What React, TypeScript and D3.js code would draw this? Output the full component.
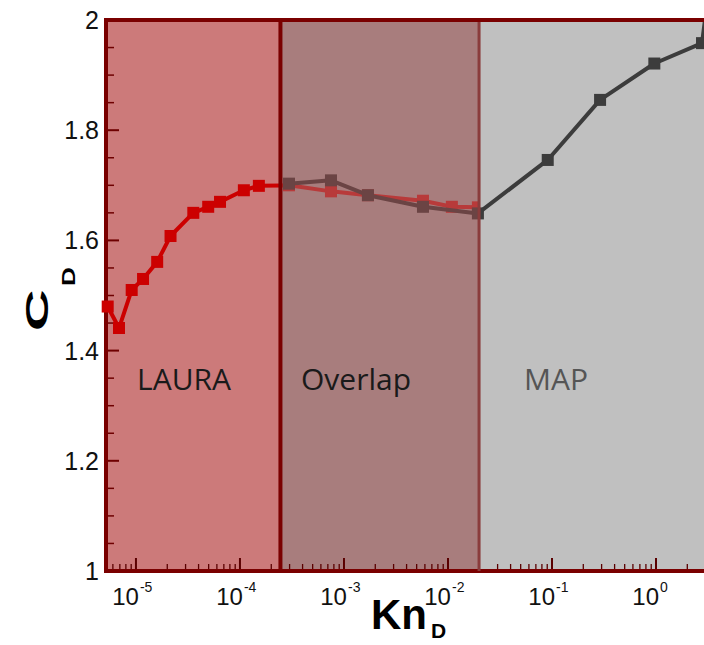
import React from "react";
import * as d3 from "d3";

// Data
const lauraKn = [5.35e-6, 6.87e-6, 9.1e-6, 1.17e-5, 1.6e-5, 2.15e-5, 3.56e-5, 4.95e-5, 6.43e-5, 1.09e-4, 1.52e-4, 2.96e-4, 7.5e-4, 1.7e-3, 5.75e-3, 1.09e-2, 1.94e-2];
const lauraCd = [1.48, 1.441, 1.51, 1.53, 1.561, 1.608, 1.65, 1.661, 1.67, 1.691, 1.699, 1.7, 1.689, 1.682, 1.672, 1.661, 1.66];
const mapKn = [2.96e-4, 7.5e-4, 1.7e-3, 5.75e-3, 1.94e-2, 9.1e-2, 0.29, 0.964, 2.77, 3.05];
const mapCd = [1.703, 1.709, 1.682, 1.661, 1.649, 1.746, 1.855, 1.921, 1.958, 2.02];
const regionBounds = [2.45e-4, 1.99e-2];
const regionNames = ["LAURA", "Overlap", "MAP"];
const yTicks = [1, 1.2, 1.4, 1.6, 1.8, 2];
const yTickLabels = ["1", "1.2", "1.4", "1.6", "1.8", "2"];
const xDecades = [-5, -4, -3, -2, -1, 0];

const L = 106, T = 20, B = 571, R = 760;

export default function App() {
  const x = d3.scaleLog().domain([Math.pow(10, -5.288), 10]).range([L, R]);
  const y = d3.scaleLinear().domain([1, 2]).range([B, T]);
  const xb1 = x(regionBounds[0]);
  const xb2 = x(regionBounds[1]);

  const mk = (kn: number[], cd: number[]) =>
    d3.line<number>().x((d) => x(d)).y((_, i) => y(cd[i]))(kn) as string;

  const lauraPath = mk(lauraKn, lauraCd);
  const mapPath = mk(mapKn, mapCd);

  const yMinor: number[] = d3.range(1, 2.0001, 0.05).filter((v) => Math.abs(Math.round(v * 5) - v * 5) > 1e-6);
  const xMinor: number[] = [];
  for (let e = -6; e <= 0; e++) for (let m = 2; m <= 9; m++) {
    const v = m * Math.pow(10, e);
    if (x(v) > L + 2 && x(v) < R) xMinor.push(v);
  }

  const sq = 12;
  const series = (kn: number[], cd: number[], path: string, color: string, clip: string, key: string) => (
    <g clipPath={`url(#${clip})`} key={key}>
      <path d={path} fill="none" stroke={color} strokeWidth={4} strokeLinejoin="round" />
      {kn.map((k, i) => (
        <rect key={i} x={x(k) - sq / 2} y={y(cd[i]) - sq / 2} width={sq} height={sq} fill={color} />
      ))}
    </g>
  );

  const labelFont = "'Liberation Sans', Arial, sans-serif";

  return (
    <svg width={704} height={645} style={{ position: "absolute", left: 0, top: 0, background: "#fff" }}>
      <defs>
        <clipPath id="cl"><rect x={L - 12} y={T - 10} width={xb1 - L + 12} height={B - T + 10} /></clipPath>
        <clipPath id="co"><rect x={xb1} y={T - 10} width={xb2 - xb1} height={B - T + 10} /></clipPath>
        <clipPath id="cm"><rect x={xb2} y={T} width={R - xb2} height={B - T} /></clipPath>
      </defs>
      <rect x={L} y={T} width={xb1 - L} height={B - T} fill="#cc7a7a" />
      <rect x={xb1} y={T} width={xb2 - xb1} height={B - T} fill="#a87d7d" />
      <rect x={xb2} y={T} width={R - xb2} height={B - T} fill="#c0c0c0" />

      {/* ticks */}
      {yTicks.map((v) => (
        <line key={"ym" + v} x1={L} x2={L + 13} y1={y(v)} y2={y(v)} stroke="#6e0000" strokeWidth={2} />
      ))}
      {yMinor.map((v) => (
        <line key={"yn" + v} x1={L} x2={L + 8} y1={y(v)} y2={y(v)} stroke="#6e0000" strokeWidth={1.5} />
      ))}
      {xDecades.map((e) => (
        <line key={"xm" + e} x1={x(Math.pow(10, e))} x2={x(Math.pow(10, e))} y1={B} y2={B - 13} stroke="#5a0000" strokeWidth={2} />
      ))}
      {xMinor.map((v, i) => (
        <line key={"xn" + i} x1={x(v)} x2={x(v)} y1={B} y2={B - 7} stroke="#5a0000" strokeWidth={1.3} />
      ))}

      {/* region labels */}
      <g fontFamily="'Open Sans', Lato, sans-serif" fontSize={30}>
        <text x={184} y={390} textAnchor="middle" fill="#1a1a1a">{regionNames[0]}</text>
        <text x={356} y={390} textAnchor="middle" fill="#1a1a1a">{regionNames[1]}</text>
        <text x={556} y={390} textAnchor="middle" fill="#555">{regionNames[2]}</text>
      </g>

      {/* frame, below the series */}
      <rect x={L} y={T} width={R - L} height={B - T} fill="none" stroke="#7a0000" strokeWidth={4} />

      {/* series */}
      {series(lauraKn, lauraCd, lauraPath, "#cc0000", "cl", "l1")}
      {series(lauraKn, lauraCd, lauraPath, "#b83a3a", "co", "l2")}
      {series(mapKn, mapCd, mapPath, "#6b4444", "co", "m1")}
      {series(mapKn, mapCd, mapPath, "#3c3c3c", "cm", "m2")}

      {/* dividers and top frame */}
      <line x1={xb1} x2={xb1} y1={T} y2={B} stroke="#7a0000" strokeWidth={4} />
      <line x1={xb2} x2={xb2} y1={T} y2={B} stroke="#8a3c3c" strokeWidth={3} />
      <line x1={L - 2} x2={R} y1={T} y2={T} stroke="#7a0000" strokeWidth={4} />

      {/* y tick labels */}
      <g fontFamily={labelFont} fontSize={25} fill="#111">
        {yTicks.map((v, i) => (
          <text key={v} x={99} y={y(v) + 9} textAnchor="end">{yTickLabels[i]}</text>
        ))}
      </g>
      {/* x tick labels */}
      <g fontFamily={labelFont} fill="#111">
        {xDecades.map((e) => {
          const px = x(Math.pow(10, e));
          return (
            <g key={e}>
              <text x={px + 3} y={605} fontSize={24} textAnchor="end">10</text>
              <text x={px + 4} y={592} fontSize={14}>{e === 0 ? "0" : "-" + Math.abs(e)}</text>
            </g>
          );
        })}
      </g>

      {/* axis titles */}
      <g fontFamily={labelFont} fontWeight="bold" fill="#000">
        <text x={371} y={629} fontSize={42}>Kn</text>
        <text x={431} y={638} fontSize={21}>D</text>
        <g transform="translate(48,331) rotate(-90)">
          <text x={0} y={0} fontSize={32} transform="scale(1.8,1)">C</text>
        </g>
        <g transform="translate(75,286) rotate(-90)">
          <text x={0} y={0} fontSize={18} transform="scale(1.45,1)">D</text>
        </g>
      </g>
    </svg>
  );
}
